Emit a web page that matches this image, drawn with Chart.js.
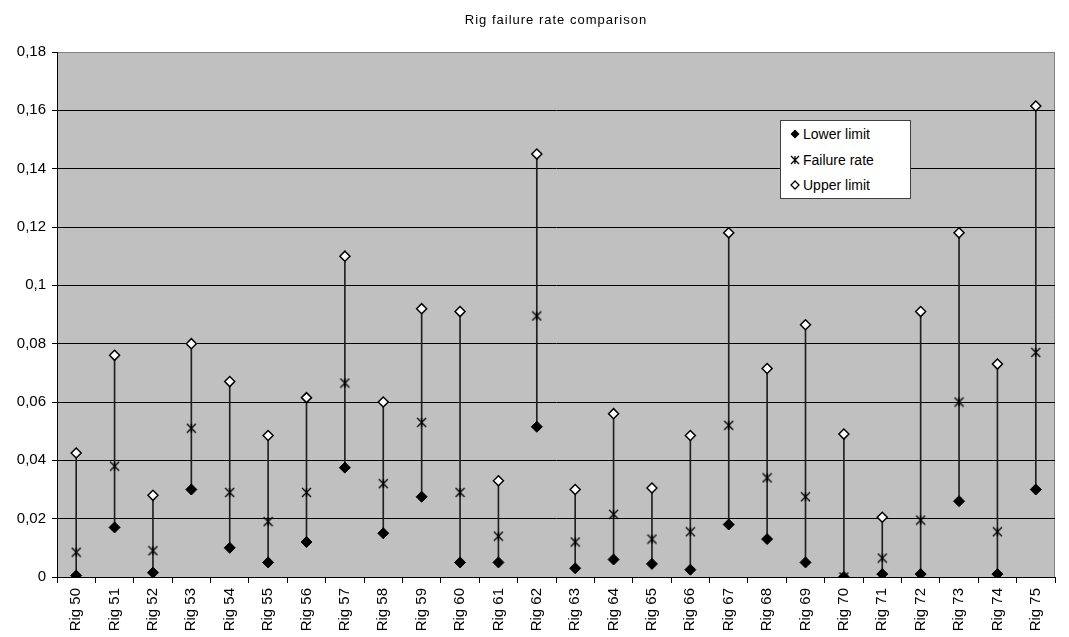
<!DOCTYPE html>
<html>
<head>
<meta charset="utf-8">
<script src="https://cdn.jsdelivr.net/npm/chart.js@4"></script>
<style>
  html, body { margin: 0; padding: 0; background: #fff; }
  #wrap { position: relative; width: 1069px; height: 637px; font-family: "Liberation Sans", Arial, sans-serif; }
  #title { position: absolute; left: 57px; width: 998px; top: 12px; text-align: center; font-size: 13px; letter-spacing: 1px; color: #000; }
  #legend { position: absolute; left: 780px; top: 120px; width: 129px; height: 77px; background: #fff; border: 1px solid #404040; font-size: 14px; }
  #legend .row { position: absolute; left: 9px; height: 16px; line-height: 16px; white-space: nowrap; }
  #legend svg { vertical-align: middle; margin-right: 3px; margin-top: -2px; }
</style>
</head>
<body>
<div id="wrap">
  <canvas id="graf" width="1069" height="637"></canvas>
  <div id="title">Rig failure rate comparison</div>
  <div id="legend">
    <div class="row" style="top:5px"><svg width="10" height="10"><path d="M5 0.5 L9.5 5 L5 9.5 L0.5 5 Z" fill="#000"/></svg>Lower limit</div>
    <div class="row" style="top:31px"><svg width="10" height="10"><path d="M1 1 L9 9 M9 1 L1 9 M5 1 L5 9" stroke="#000" stroke-width="1.3"/></svg>Failure rate</div>
    <div class="row" style="top:56px"><svg width="10" height="10"><path d="M5 1 L9 5 L5 9 L1 5 Z" fill="#fff" stroke="#000" stroke-width="1.3"/></svg>Upper limit</div>
  </div>
</div>
<script>
const rigs = ['Rig 50', 'Rig 51', 'Rig 52', 'Rig 53', 'Rig 54', 'Rig 55', 'Rig 56', 'Rig 57', 'Rig 58', 'Rig 59',
  'Rig 60', 'Rig 61', 'Rig 62', 'Rig 63', 'Rig 64', 'Rig 65', 'Rig 66', 'Rig 67', 'Rig 68', 'Rig 69',
  'Rig 70', 'Rig 71', 'Rig 72', 'Rig 73', 'Rig 74', 'Rig 75'];

const lowerLimit = [0.0005, 0.017, 0.0015, 0.030, 0.010, 0.005, 0.012, 0.0375, 0.015, 0.0275,
  0.005, 0.005, 0.0515, 0.003, 0.006, 0.0045, 0.0025, 0.018, 0.013, 0.005,
  0.0, 0.001, 0.001, 0.026, 0.001, 0.030];

const failureRate = [0.0085, 0.038, 0.009, 0.051, 0.029, 0.019, 0.029, 0.0665, 0.032, 0.053,
  0.029, 0.014, 0.0895, 0.012, 0.0215, 0.013, 0.0155, 0.052, 0.034, 0.0275,
  0.0, 0.0065, 0.0195, 0.060, 0.0155, 0.077];

const upperLimit = [0.0425, 0.076, 0.028, 0.080, 0.067, 0.0485, 0.0615, 0.110, 0.060, 0.092,
  0.091, 0.033, 0.145, 0.030, 0.056, 0.0305, 0.0485, 0.118, 0.0715, 0.0865,
  0.049, 0.0205, 0.091, 0.118, 0.073, 0.1615];

const yTicks = [0, 0.02, 0.04, 0.06, 0.08, 0.1, 0.12, 0.14, 0.16, 0.18];

// hvezdicka jako v Excelu (X se svislou carou)
function starMarker() {
  const c = document.createElement('canvas');
  c.width = 11; c.height = 11;
  const g = c.getContext('2d');
  g.strokeStyle = '#000';
  g.lineWidth = 1.3;
  g.beginPath();
  g.moveTo(1, 1); g.lineTo(10, 10);
  g.moveTo(10, 1); g.lineTo(1, 10);
  g.moveTo(5.5, 1); g.lineTo(5.5, 10);
  g.stroke();
  return c;
}

// sede pozadi plochy grafu a ramecek
const plotBg = {
  id: 'plotBg',
  beforeDraw(chart) {
    const { ctx, chartArea: a } = chart;
    ctx.save();
    ctx.fillStyle = '#c0c0c0';
    ctx.fillRect(a.left, a.top, a.right - a.left, a.bottom - a.top);
    ctx.strokeStyle = '#808080';
    ctx.lineWidth = 1;
    ctx.beginPath();
    ctx.moveTo(a.right - 0.5, a.top);
    ctx.lineTo(a.right - 0.5, a.bottom);
    ctx.stroke();
    ctx.restore();
  }
};

const fontFamily = '"Liberation Sans", Arial, sans-serif';

const ctx = document.getElementById('graf').getContext('2d');
new Chart(ctx, {
  type: 'line',
  data: {
    labels: rigs,
    datasets: [
      {
        type: 'line',
        label: 'Lower limit',
        data: lowerLimit,
        showLine: false,
        pointStyle: 'rectRot',
        pointRadius: 5.5,
        backgroundColor: '#000',
        borderColor: '#000',
        borderWidth: 1,
        order: 1
      },
      {
        type: 'line',
        label: 'Failure rate',
        data: failureRate,
        showLine: false,
        pointStyle: starMarker(),
        order: 0
      },
      {
        type: 'line',
        label: 'Upper limit',
        data: upperLimit,
        showLine: false,
        pointStyle: 'rectRot',
        pointRadius: 5,
        backgroundColor: '#fff',
        borderColor: '#000',
        borderWidth: 1.5,
        order: 2
      },
      {
        type: 'bar',
        label: 'range',
        data: lowerLimit.map((v, i) => [v, upperLimit[i]]),
        backgroundColor: '#202020',
        barThickness: 1,
        order: 10
      }
    ]
  },
  options: {
    responsive: false,
    animation: false,
    layout: { padding: { top: 52, right: 14, left: 0, bottom: 0 } },
    plugins: {
      legend: { display: false },
      title: { display: false },
      tooltip: { enabled: false }
    },
    scales: {
      x: {
        type: 'category',
        offset: true,
        afterFit: s => { s.height = 60; },
        grid: { offset: true, drawOnChartArea: false, drawTicks: true, tickLength: 6, color: '#000' },
        border: { display: true, color: '#000', width: 1 },
        ticks: {
          minRotation: 90, maxRotation: 90, autoSkip: false, padding: 5,
          color: '#000', font: { family: fontFamily, size: 15 }
        }
      },
      y: {
        min: 0,
        max: 0.18,
        afterFit: s => { s.width = 57; },
        afterBuildTicks: s => { s.ticks = yTicks.map(v => ({ value: v })); },
        grid: {
          color: c => (c.tick && c.tick.value === 0.18) ? '#808080' : '#000',
          tickColor: '#000',
          tickLength: 5,
          lineWidth: 1
        },
        border: { display: true, color: '#000', width: 1 },
        ticks: {
          padding: 6,
          color: '#000',
          font: { family: fontFamily, size: 15 },
          callback: v => String(Number(v.toFixed(2))).replace('.', ',')
        }
      }
    }
  },
  plugins: [plotBg]
});
</script>
</body>
</html>
